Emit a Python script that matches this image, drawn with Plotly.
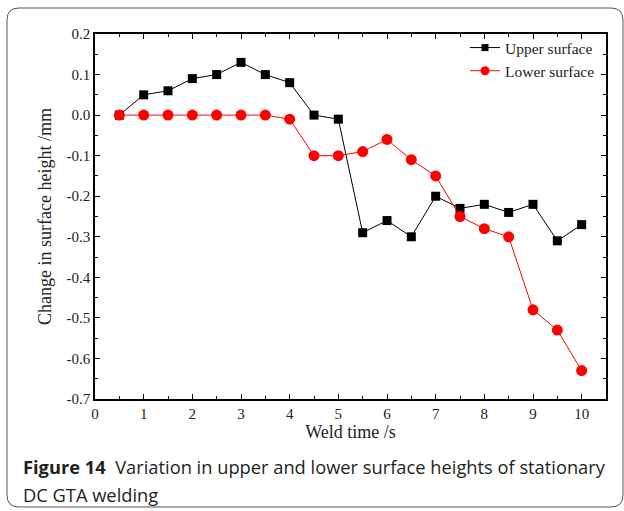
import plotly.graph_objects as go

weld_time = [0.5, 1, 1.5, 2, 2.5, 3, 3.5, 4, 4.5, 5, 5.5, 6, 6.5, 7, 7.5, 8, 8.5, 9, 9.5, 10]
upper_surface = [0, 0.05, 0.06, 0.09, 0.10, 0.13, 0.10, 0.08, 0.00, -0.01,
                 -0.29, -0.26, -0.30, -0.20, -0.23, -0.22, -0.24, -0.22, -0.31, -0.27]
lower_surface = [0, 0, 0, 0, 0, 0, 0, -0.01, -0.10, -0.10,
                 -0.09, -0.06, -0.11, -0.15, -0.25, -0.28, -0.30, -0.48, -0.53, -0.63]
x_ticks = [0, 1, 2, 3, 4, 5, 6, 7, 8, 9, 10]
y_ticks = [0.2, 0.1, 0.0, -0.1, -0.2, -0.3, -0.4, -0.5, -0.6, -0.7]
series_names = ["Upper surface", "Lower surface"]

W, H = 624, 511
L, R, T, B = 95, 606, 34, 399

def px(x):
    return (x - L) / (R - L)

def py(y):
    return (B - y) / (B - T)

fig = go.Figure()
styles = [dict(color="black", symbol="square", size=9), dict(color="#ff0000", symbol="circle", size=11)]
for name, ys, st in zip(series_names, [upper_surface, lower_surface], styles):
    fig.add_trace(go.Scatter(x=weld_time, y=ys, mode="lines+markers", name=name, showlegend=False,
                             line=dict(color=st["color"], width=1),
                             marker=dict(symbol=st["symbol"], size=st["size"], color=st["color"])))
    # legend entry with smaller marker, like the original
    fig.add_trace(go.Scatter(x=[None], y=[None], mode="lines+markers", name=name,
                             line=dict(color=st["color"], width=1),
                             marker=dict(symbol=st["symbol"], size=st["size"] - 2, color=st["color"])))

axis_common = dict(showline=True, linecolor="black", linewidth=1.5, mirror="ticks",
                   ticks="inside", ticklen=5, tickwidth=1.2, tickcolor="black",
                   showgrid=False, zeroline=False,
                   tickfont=dict(family="Liberation Serif", size=15, color="#222"))

fig.update_xaxes(range=[0, 10.5], tickvals=x_ticks, ticktext=[str(v) for v in x_ticks],
                 minor=dict(ticks="inside", dtick=0.5, ticklen=3, tickwidth=1, tickcolor="black"),
                 title=dict(text="Weld time /s", font=dict(family="Liberation Serif", size=18, color="#222"), standoff=2),
                 **axis_common)
fig.update_yaxes(range=[-0.7, 0.2], tickvals=y_ticks, ticktext=[f"{v:.1f}" for v in y_ticks],
                 minor=dict(ticks="inside", dtick=0.05, ticklen=3, tickwidth=1, tickcolor="black"),
                 title=dict(text="Change in surface height /mm", font=dict(family="Liberation Serif", size=18, color="#222"), standoff=10),
                 **axis_common)

# rounded frame
x0, x1, y0, y1, r = 7, 623, 8, 507, 12
def P(x, y):
    return f"{px(x):.5f},{py(y):.5f}"
path = (f"M {P(x0 + r, y0)} L {P(x1 - r, y0)} Q {P(x1, y0)} {P(x1, y0 + r)} "
        f"L {P(x1, y1 - r)} Q {P(x1, y1)} {P(x1 - r, y1)} "
        f"L {P(x0 + r, y1)} Q {P(x0, y1)} {P(x0, y1 - r)} "
        f"L {P(x0, y0 + r)} Q {P(x0, y0)} {P(x0 + r, y0)} Z")
fig.add_shape(type="path", path=path, xref="paper", yref="paper",
              line=dict(color="#555", width=1), layer="below")

fig.add_annotation(xref="paper", yref="paper", x=px(21), y=py(466), xanchor="left", yanchor="middle",
                   text="<b>Figure 14</b>  Variation in upper and lower surface heights of stationary",
                   showarrow=False, font=dict(family="Open Sans", size=18.3, color="#231f20"))
fig.add_annotation(xref="paper", yref="paper", x=px(21), y=py(494), xanchor="left", yanchor="middle",
                   text="DC GTA welding",
                   showarrow=False, font=dict(family="Open Sans", size=18.3, color="#231f20"))

fig.update_layout(width=W, height=H, margin=dict(l=L, r=W - R, t=T, b=H - B),
                  paper_bgcolor="white", plot_bgcolor="white",
                  legend=dict(x=px(600), y=py(31), xanchor="right", yanchor="top",
                              bgcolor="rgba(0,0,0,0)", tracegroupgap=0, itemsizing="trace",
                              itemwidth=30,
                              font=dict(family="Liberation Serif", size=15.5, color="#222")),
                  showlegend=True)

fig.write_html("out.html")
